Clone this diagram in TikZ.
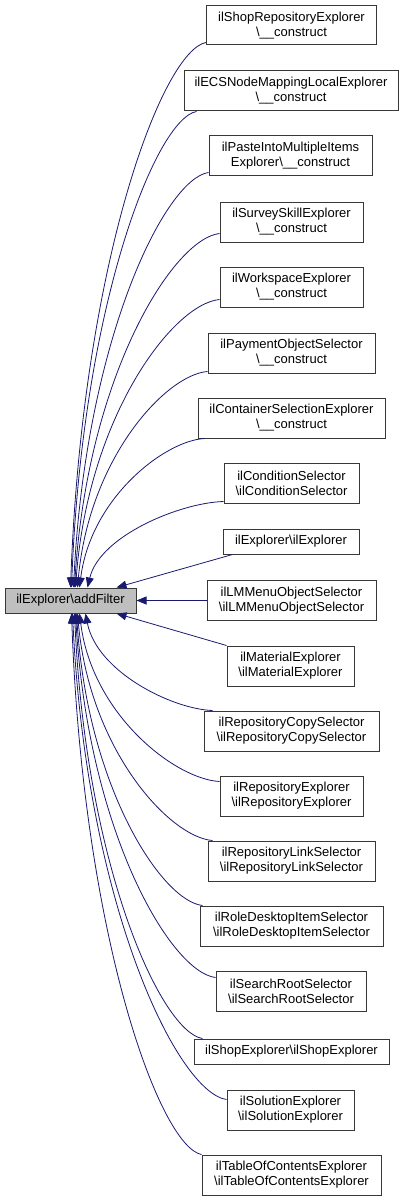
\documentclass[tikz,border=0pt]{standalone}
\usepackage{fontspec}
\setmainfont{Liberation Sans}
\usetikzlibrary{arrows.meta,calc}
\definecolor{edgeblue}{HTML}{191970}
\definecolor{boxline}{HTML}{383838}
\tikzset{
  box/.style={draw=boxline, line width=1pt, fill=white, align=center, inner sep=0pt,
    font=\fontsize{13}{15}\selectfont, minimum height=40},
  mainbox/.style={box, fill=black!25, minimum height=25},
  edge/.style={draw=edgeblue, line width=0.8pt, -{Triangle[length=10pt,width=8pt]}},
}
\newcommand\fan[2]{\draw[edge] let \p1=(#1), \p2=(#2) in (\p1) .. controls ({\x1-0.32*(\x1-\x2)},{\y1+0.015*(\y2-\y1)}) and ({\x2+0.09*(\x1-\x2)},{\y1+0.4*(\y2-\y1)}) .. (\p2);}
\newcommand\bs{\textbackslash}
\begin{document}
\begin{tikzpicture}[x=1pt,y=-1pt]
\useasboundingbox (0,0) rectangle (404,1201);
\node[mainbox, minimum width=131] (m) at (70.5,600.5) {ilExplorer\bs addFilter};
\node[box, minimum width=170, minimum height=39] (b1) at (291.5,25.5) {ilShopRepositoryExplorer\\\bs\_\_construct};
\node[box, minimum width=214] (b2) at (291,91) {ilECSNodeMappingLocalExplorer\\\bs\_\_construct};
\node[box, minimum width=163] (b3) at (290.5,156) {ilPasteIntoMultipleItems\\Explorer\bs\_\_construct};
\node[box, minimum width=143] (b4) at (291.5,222) {ilSurveySkillExplorer\\\bs\_\_construct};
\node[box, minimum width=143] (b5) at (291.5,287) {ilWorkspaceExplorer\\\bs\_\_construct};
\node[box, minimum width=167] (b6) at (291.5,353) {ilPaymentObjectSelector\\\bs\_\_construct};
\node[box, minimum width=187] (b7) at (291.5,418) {ilContainerSelectionExplorer\\\bs\_\_construct};
\node[box, minimum width=135] (b8) at (291.5,483) {ilConditionSelector\\\bs ilConditionSelector};
\node[box, minimum width=136, minimum height=25] (b9) at (291,541.5) {ilExplorer\bs ilExplorer};
\node[box, minimum width=169] (b10) at (291.5,600.5) {ilLMMenuObjectSelector\\\bs ilLMMenuObjectSelector};
\node[box, minimum width=127] (b11) at (290.5,666) {ilMaterialExplorer\\\bs ilMaterialExplorer};
\node[box, minimum width=175] (b12) at (291.5,731) {ilRepositoryCopySelector\\\bs ilRepositoryCopySelector};
\node[box, minimum width=143] (b13) at (291.5,796) {ilRepositoryExplorer\\\bs ilRepositoryExplorer};
\node[box, minimum width=167] (b14) at (291.5,861) {ilRepositoryLinkSelector\\\bs ilRepositoryLinkSelector};
\node[box, minimum width=183] (b15) at (291.5,926) {ilRoleDesktopItemSelector\\\bs ilRoleDesktopItemSelector};
\node[box, minimum width=150] (b16) at (291,991) {ilSearchRootSelector\\\bs ilSearchRootSelector};
\node[box, minimum width=195, minimum height=25] (b17) at (291.5,1051.5) {ilShopExplorer\bs ilShopExplorer};
\node[box, minimum width=127] (b18) at (290.5,1110) {ilSolutionExplorer\\\bs ilSolutionExplorer};
\node[box, minimum width=179] (b19) at (291.5,1175) {ilTableOfContentsExplorer\\\bs ilTableOfContentsExplorer};
% upper fan
\fan{[yshift=3pt]b1.south west}{[xshift=66pt]m.north west}
\fan{[xshift=13pt]b2.south west}{[xshift=67pt]m.north west}
\fan{[yshift=4pt]b3.south west}{[xshift=69pt]m.north west}
\fan{[yshift=9pt]b4.south west}{[xshift=70pt]m.north west}
\fan{[yshift=8pt]b5.south west}{[xshift=71pt]m.north west}
\fan{[yshift=2pt]b6.south west}{[xshift=73pt]m.north west}
\fan{[xshift=7pt]b7.south west}{[xshift=75pt]m.north west}
\fan{[yshift=2pt]b8.south west}{[xshift=83pt]m.north west}
\draw[edge] ([xshift=10pt]b9.south west) -- ([xshift=112pt]m.north west);
\draw[edge] (b10.west) -- (m.east);
\draw[edge] (b11.north west) -- ([xshift=112pt]m.south west);
% lower fan
\fan{[xshift=9pt]b12.north west}{[xshift=81pt]m.south west}
\fan{[yshift=-6pt]b13.north west}{[xshift=75pt]m.south west}
\fan{[xshift=5pt]b14.north west}{[xshift=73pt]m.south west}
\fan{[xshift=3pt]b15.north west}{[xshift=72pt]m.south west}
\fan{[yshift=-7pt]b16.north west}{[xshift=71pt]m.south west}
\fan{[xshift=9pt]b17.north west}{[xshift=70pt]m.south west}
\fan{[yshift=-10pt]b18.north west}{[xshift=68pt]m.south west}
\fan{b19.north west}{[xshift=67pt]m.south west}
\end{tikzpicture}
\end{document}
